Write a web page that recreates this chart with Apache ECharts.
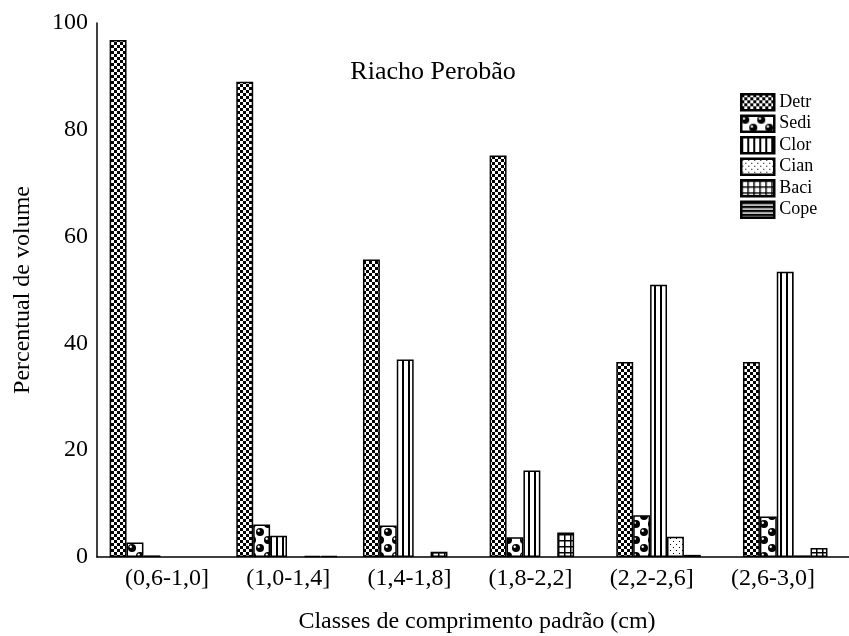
<!DOCTYPE html>
<html>
<head>
<meta charset="utf-8">
<script src="https://cdn.jsdelivr.net/npm/echarts@6/dist/echarts.min.js"></script>
<style>html,body{margin:0;padding:0;background:#fff}#c{width:849px;height:636px}</style>
</head>
<body>
<div id="c"></div>
<script>
const categories = ['(0,6-1,0]', '(1,0-1,4]', '(1,4-1,8]', '(1,8-2,2]', '(2,2-2,6]', '(2,6-3,0]'];
const seriesNames = ['Detr', 'Sedi', 'Clor', 'Cian', 'Baci', 'Cope'];
const detr = [96.8, 89.0, 55.7, 75.2, 36.5, 36.5];
const sedi = [2.7, 6.1, 5.9, 3.7, 7.8, 7.6];
const clor = [0.3, 4.0, 37.0, 16.2, 51.0, 53.4];
const cian = [0, 0, 0, 0, 3.8, 0.3];
const baci = [0, 0.2, 1.0, 4.6, 0.4, 1.7];
const cope = [0, 0.2, 0, 0, 0, 0];
const yTicks = [0, 20, 40, 60, 80, 100];

function tile(w, h, draw) {
  const c = document.createElement('canvas');
  c.width = w; c.height = h;
  const g = c.getContext('2d');
  g.fillStyle = '#fff'; g.fillRect(0, 0, w, h);
  g.fillStyle = '#000';
  draw(g);
  return c;
}
const patterns = {
  Detr: tile(6, 6, g => { g.fillRect(0, 0, 3, 3); g.fillRect(3, 3, 3, 3); }),
  Sedi: tile(16, 16, g => {
    const ball = (x, y) => {
      g.fillStyle = '#000'; g.beginPath(); g.arc(x, y, 4, 0, Math.PI * 2); g.fill();
      g.fillStyle = '#fff'; g.beginPath(); g.arc(x - 1.3, y - 1.3, 1.2, 0, Math.PI * 2); g.fill();
    };
    ball(4, 4); ball(12, 12); ball(-4, 12); ball(20, 4); ball(12, -4); ball(4, 20);
  }),
  Clor: tile(6, 1, g => { g.fillRect(0, 0, 2, 1); }),
  Cian: tile(6, 6, g => { g.fillRect(1, 1, 1, 1); g.fillRect(4, 4, 1, 1); }),
  Baci: tile(6, 6, g => { g.fillRect(0, 0, 6, 1.5); g.fillRect(0, 0, 1.5, 6); }),
  Cope: tile(1, 4, g => { g.fillRect(0, 0, 1, 2.5); })
};
const values = { Detr: detr, Sedi: sedi, Clor: clor, Cian: cian, Baci: baci, Cope: cope };
const FONT = '"Liberation Serif", "Times New Roman", serif';

const series = seriesNames.map(n => ({
  name: n,
  type: 'bar',
  xAxisIndex: 0, yAxisIndex: 0,
  data: values[n].map(v => (v === 0 ? '-' : v)),
  barWidth: 16.9,
  barGap: '0%',
  itemStyle: { color: { image: patterns[n], repeat: 'repeat' }, borderColor: '#000', borderWidth: 1.5 },
  emphasis: { disabled: true },
  animation: false
}));

const chart = echarts.init(document.getElementById('c'), null, { renderer: 'canvas' });
chart.setOption({
  animation: false,
  backgroundColor: '#fff',
  textStyle: { fontFamily: FONT, color: '#000' },
  title: {
    text: 'Riacho Perobão', left: 428, top: 54, textAlign: 'center',
    textStyle: { fontFamily: FONT, fontSize: 26, fontWeight: 'normal', color: '#000' }
  },
  legend: {
    data: seriesNames, orient: 'vertical', left: 735, top: 88,
    icon: 'rect',
    itemWidth: 33, itemHeight: 16, itemGap: 3,
    textStyle: { fontFamily: FONT, fontSize: 18, color: '#000', padding: [0, 0, 0, 0] },
    itemStyle: { borderColor: '#000', borderWidth: 2.5 }
  },
  grid: [
    { left: 97, top: 23, height: 534, width: 760, containLabel: false, outerBoundsMode: 'none' },
    { left: 106.4, top: 23, height: 534, width: 727.2, containLabel: false, outerBoundsMode: 'none' }
  ],
  xAxis: [
    {
      type: 'category', gridIndex: 0, data: categories,
      axisLine: { lineStyle: { color: '#000', width: 1.5 } },
      axisTick: { show: false }, axisLabel: { show: false },
      name: 'Classes de comprimento padrão (cm)', nameLocation: 'middle', nameGap: 53,
      nameTextStyle: { fontFamily: FONT, fontSize: 24, color: '#000' }
    },
    {
      type: 'category', gridIndex: 1, data: categories,
      axisLine: { show: false }, axisTick: { show: false },
      axisLabel: { fontFamily: FONT, fontSize: 24, color: '#000', margin: 10 }
    }
  ],
  yAxis: [
    {
      type: 'value', gridIndex: 0, min: 0, max: 100, interval: 20,
      axisLine: { show: true, lineStyle: { color: '#000', width: 1.5 } },
      axisTick: { show: false },
      splitLine: { show: false },
      axisLabel: { fontFamily: FONT, fontSize: 24, color: '#000', margin: 9,
        formatter: v => yTicks.includes(v) ? String(v) : '' },
      name: 'Percentual de volume', nameLocation: 'middle', nameGap: 62,
      nameTextStyle: { fontFamily: FONT, fontSize: 24, color: '#000' }
    },
    { type: 'value', gridIndex: 1, show: false, min: 0, max: 100 }
  ],
  series: series
});
</script>
</body>
</html>
